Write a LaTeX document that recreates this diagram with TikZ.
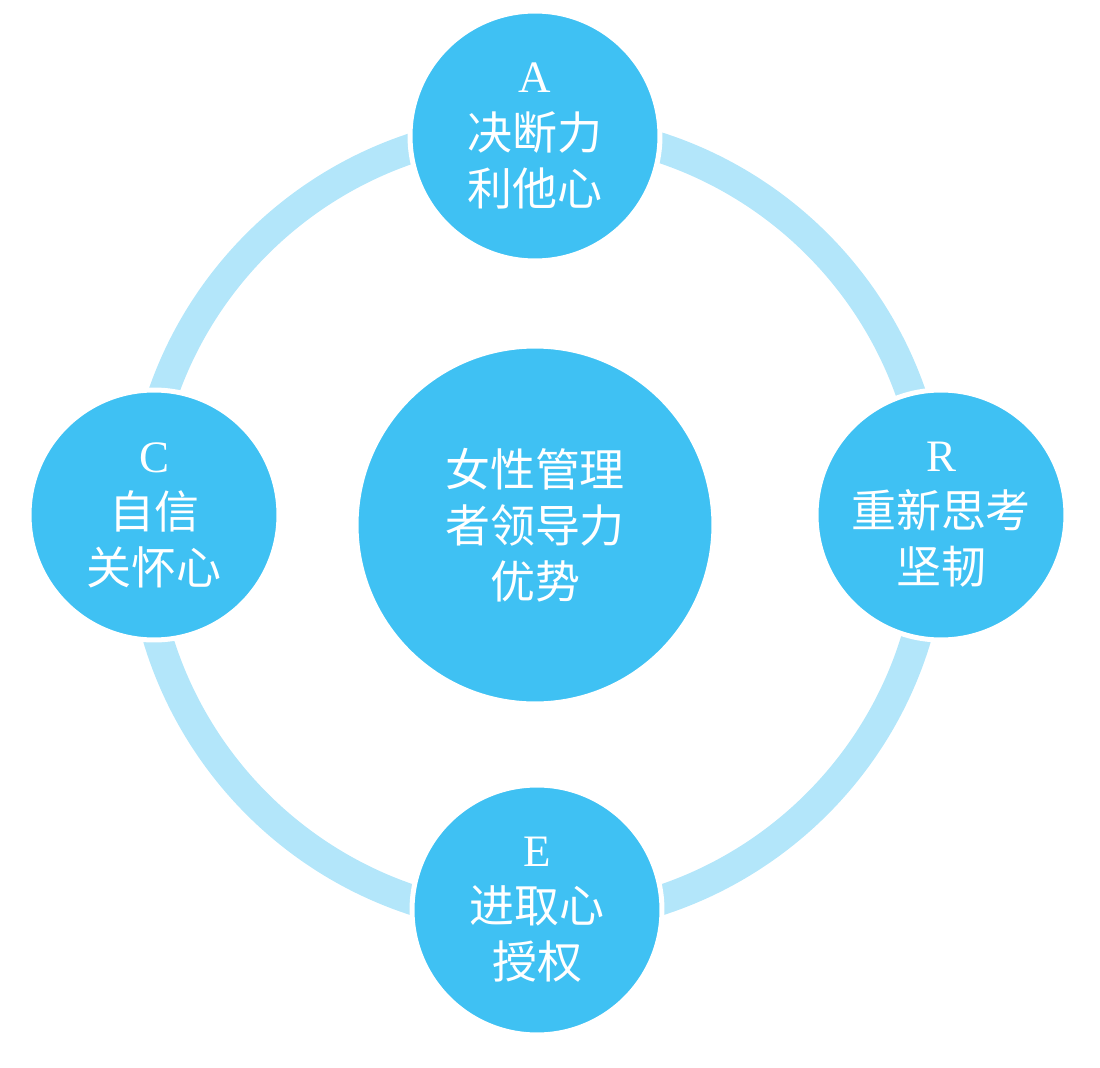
\documentclass[tikz,border=0pt]{standalone}
\usepackage{fontspec}
\setmainfont{Liberation Serif}
\newfontfamily\cjk{Noto Sans CJK SC}
\definecolor{nodeblue}{HTML}{3FC1F3}
\definecolor{ringblue}{HTML}{B3E6FA}
\begin{document}
\begin{tikzpicture}[x=0.02cm,y=-0.02cm,
	main node/.style = {circle,fill=nodeblue,draw=white,line width=0.1cm,inner sep=0pt,minimum size=5cm,
		text=white,align=center,font=\cjk\fontsize{25.6}{31.9}\selectfont},
	big node/.style = {main node,minimum size=7.16cm},
	ring/.style = {draw=ringblue,line width=0.6cm}]
	\useasboundingbox (0,0) rectangle (1100,1068);
	
	\coordinate (o) at (537,524);
	\draw[ring] (o) circle (7.92cm);
	
	\node[big node] (0) at (535,525) {女性管理\\者领导力\\优势};
	\node[main node] (1) at (535,136) {{\rmfamily A}\\决断力\\利他心};
	\node[main node] (2) at (941,515) {{\rmfamily R}\\重新思考\\坚韧};
	\node[main node] (3) at (537,910) {{\rmfamily E}\\进取心\\授权};
	\node[main node] (4) at (154,515) {{\rmfamily C}\\自信\\关怀心};
\end{tikzpicture}
\end{document}
